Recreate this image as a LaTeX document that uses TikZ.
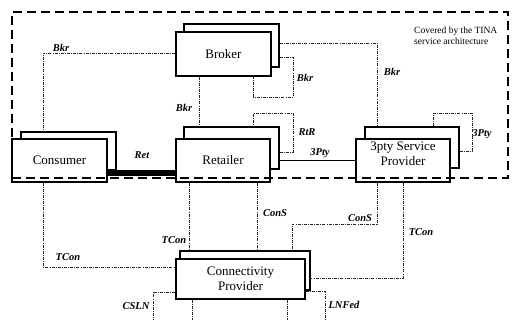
\documentclass[tikz,border=0pt]{standalone}
\usepackage{fontspec}
\setmainfont{Liberation Serif}
\begin{document}
\begin{tikzpicture}[x=1pt,y=-1pt,
  box/.style={draw,fill=white,line width=1.1pt,inner sep=0pt},
  lbl/.style={font=\fontsize{13}{15}\selectfont,align=center,inner sep=0pt},
  link/.style={line width=0.7pt,dash pattern=on 3pt off 1.2pt on 0.8pt off 1.2pt,black!85},
  solidlink/.style={line width=0.8pt,black},
  tag/.style={font=\bfseries\itshape\fontsize{10.5}{12}\selectfont,inner sep=0pt},
  boundary/.style={draw,line width=2.6pt,dash pattern=on 9pt off 5pt,inner sep=0pt}]
\useasboundingbox (0,0) rectangle (513,320);

% back boxes
\node[box,minimum width=95pt,minimum height=43pt] (brokerB) at (231.5,45.5) {};
\node[box,minimum width=95pt,minimum height=42pt] (retB) at (231.5,148) {};
\node[box,minimum width=95pt,minimum height=38pt] (consB) at (68.5,151) {};
\node[box,minimum width=94pt,minimum height=41pt] (tpB) at (412,147.5) {};
\node[box,minimum width=130pt,minimum height=39pt] (connB) at (245,270.5) {};

% front boxes
\node[box,lbl,minimum width=95pt,minimum height=44pt] (brokerF) at (223.5,54) {Broker};
\node[box,lbl,minimum width=94pt,minimum height=43pt] (retF) at (223,160.5) {Retailer};
\node[box,lbl,minimum width=95pt,minimum height=43pt] (consF) at (59.5,160.5) {Consumer};
\node[box,minimum width=94pt,minimum height=43pt] (tpF) at (403,160.5) {};
\node[lbl] (tpText) at (403,154) {3pty Service\\Provider};
\node[box,lbl,minimum width=129pt,minimum height=40pt] (connF) at (240.5,279) {Connectivity\\Provider};

% connectors
\draw[link] (brokerF.west |- 0,53) -| (consB.north -| 43,0);
\draw[link] (brokerF.south -| 199,0) -- (retB.north -| 199,0);
\draw[link] (brokerB.east |- 0,57) -| (293,97) -| (brokerF.south -| 253,0);
\draw[link] (brokerB.east |- 0,43) -| (tpB.north -| 377,0);
\draw[link] (retB.east |- 0,152) -| (293,113) -| (retB.north -| 253,0);
\draw[solidlink] (retB.east |- 0,160) -- (tpF.west |- 0,160);
\draw[link] (tpB.east |- 0,151) -| (472,113) -| (tpB.north -| 433,0);
\draw[line width=6pt,black] (consF.east |- 0,173) -- (retF.west |- 0,173);
\draw[link] (consF.south -| 43,0) |- (connF.west |- 0,267);
\draw[link] (retF.south -| 189,0) -- (connB.north -| 189,0);
\draw[link] (retF.south -| 257,0) -- (connB.north -| 257,0);
\draw[link] (tpF.south -| 377,0) |- (292,224) -- (connB.north -| 292,0);
\draw[link] (tpF.south -| 403,0) |- (connB.east |- 0,278);
\coordinate (lnEnd) at (325,320);
\coordinate (csEnd) at (153,320);
\coordinate (b1End) at (192,320);
\coordinate (b2End) at (287,320);
\draw[link] (connF.east |- 0,291) -| (lnEnd);
\draw[link] (connF.west |- 0,292) -| (csEnd);
\draw[link] (connF.south -| b1End) -- (b1End);
\draw[link] (connF.south -| b2End) -- (b2End);

% labels
\node[tag] (t1) at (61,48) {Bkr};
\node[tag] (t2) at (184,108) {Bkr};
\node[tag] (t3) at (305,78) {Bkr};
\node[tag] (t4) at (392,72) {Bkr};
\node[tag] (t5) at (307,132) {RtR};
\node[tag] (t6) at (320,153) {3Pty};
\node[tag] (t7) at (482,134) {3Pty};
\node[tag] (t8) at (142,155) {Ret};
\node[tag] (t9) at (68,257) {TCon};
\node[tag] (t10) at (174,240) {TCon};
\node[tag] (t11) at (275,213) {ConS};
\node[tag] (t12) at (360,218) {ConS};
\node[tag] (t13) at (421,232) {TCon};
\node[tag] (t14) at (344,305) {LNFed};
\node[tag] (t15) at (136,306) {CSLN};

\node[font=\fontsize{9.5}{11.5}\selectfont,align=left,anchor=west,inner sep=0pt] (cov) at (414,36) {Covered by the TINA\\service architecture};

% TINA boundary
\node[boundary,minimum width=496pt,minimum height=166pt] (tina) at (260,95) {};
\end{tikzpicture}
\end{document}
